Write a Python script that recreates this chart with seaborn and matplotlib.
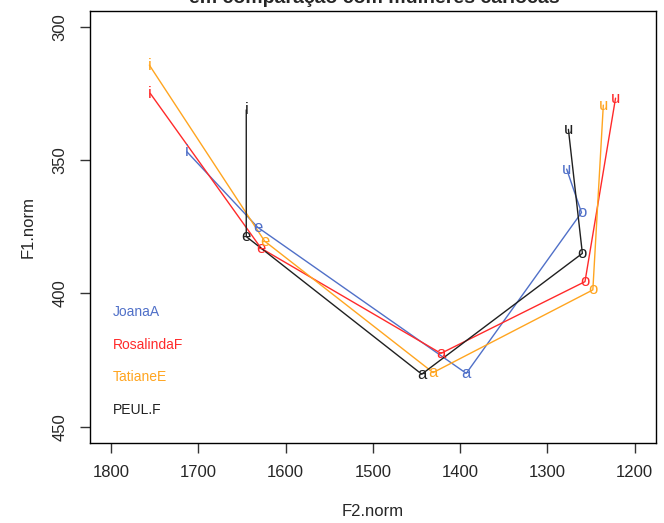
import pandas as pd
import matplotlib.pyplot as plt
import seaborn as sns

# valores (ordem das vogais: i, e, a, o, u)
speakers = ['JoanaA', 'RosalindaF', 'TatianeE', 'PEUL.F']
vowels = ['i', 'e', 'a', 'o', 'u']

joana_f2 = [1713, 1632, 1393, 1261, 1278]
joana_f1 = [346.9, 375.2, 430.0, 369.7, 353.4]

rosalinda_f2 = [1755, 1628, 1422, 1257, 1222]
rosalinda_f1 = [325.0, 383.1, 422.5, 395.6, 326.8]

tatiane_f2 = [1756, 1624, 1431, 1248, 1236]
tatiane_f1 = [314.4, 380.4, 429.7, 398.7, 329.4]

peul_f2 = [1645, 1645, 1444, 1260, 1276]
peul_f1 = [331.2, 378.7, 430.3, 385.0, 338.5]

colors = {'JoanaA': '#5070C8', 'RosalindaF': '#FF2A2A',
          'TatianeE': '#FFA520', 'PEUL.F': '#202020'}

f2_values = [joana_f2, rosalinda_f2, tatiane_f2, peul_f2]
f1_values = [joana_f1, rosalinda_f1, tatiane_f1, peul_f1]

rows = []
for spk, f2s, f1s in zip(speakers, f2_values, f1_values):
    for v, x, y in zip(vowels, f2s, f1s):
        rows.append({'speaker': spk, 'vogal': v, 'F2': x, 'F1': y})
df = pd.DataFrame(rows)

sns.set_style("ticks")
plt.rcParams['font.family'] = ['Liberation Sans', 'DejaVu Sans']

fig = plt.figure(figsize=(6.64, 5.23), dpi=100)
ax = fig.add_axes([90 / 664, 1 - 442.7 / 523, 565.7 / 664, 432 / 523])

sns.lineplot(data=df, x='F2', y='F1', hue='speaker', palette=colors,
             sort=False, estimator=None, legend=False, lw=1, ax=ax)

# vogais escritas nos pontos
for _, r in df.iterrows():
    ax.text(r['F2'], r['F1'], r['vogal'], color=colors[r['speaker']],
            ha='center', va='center', fontsize=12)

# legenda só com texto
leg_y = [0.3025, 0.226, 0.152, 0.0757]
for spk, yy in zip(speakers, leg_y):
    ax.text(0.041, yy, spk, color=colors[spk], transform=ax.transAxes,
            ha='left', va='center', fontsize=10)

ax.set_xlim(1824, 1176)
ax.set_ylim(456, 294)
ax.set_xticks([1800, 1700, 1600, 1500, 1400, 1300, 1200])
ax.set_yticks([300, 350, 400, 450])

for sp in ax.spines.values():
    sp.set_visible(True)
    sp.set_color('black')
    sp.set_linewidth(1)

ax.tick_params(direction='out', length=7, width=1, color='#333333',
               labelsize=12, pad=9)
ax.tick_params(axis='y', labelrotation=90)
for lab in ax.get_yticklabels():
    lab.set_verticalalignment('center')

ax.set_xlabel('F2.norm', fontsize=12)
ax.set_ylabel('F1.norm', fontsize=12)
ax.xaxis.set_label_coords(0.5, (442.7 - 512) / 432)
ax.xaxis.label.set_va('center')
ax.yaxis.set_label_coords((28 - 90) / 565.7, 0.5)
ax.yaxis.label.set_va('center')

fig.text(374 / 664, 1 - 3 / 523, 'em comparação com mulheres cariocas',
         ha='center', va='baseline', fontsize=14, fontweight='bold')

fig.savefig('out.png', dpi=100)
